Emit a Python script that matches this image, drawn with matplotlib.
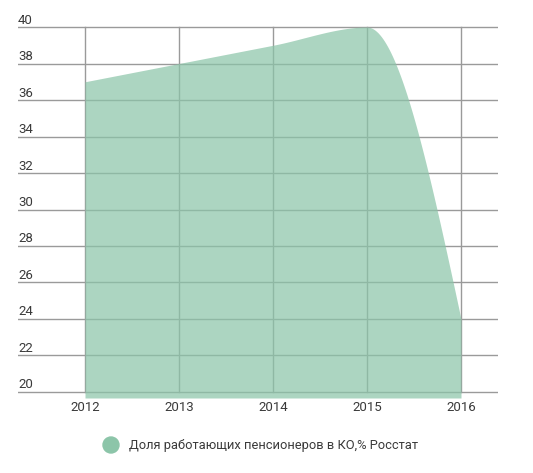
import numpy as np
import matplotlib
matplotlib.use("Agg")
import matplotlib.pyplot as plt
import matplotlib.transforms as mtransforms
from matplotlib.patches import Ellipse

years = [2012, 2013, 2014, 2015, 2016]
values = [37, 38, 39, 40, 24]
yticks = [20, 22, 24, 26, 28, 30, 32, 34, 36, 38, 40]
series_name = "Доля работающих пенсионеров в КО,% Росстат"

FILL = "#8cc5a9"
GRID = "#9a9a9a"
TXT = "#3a3a3a"
plt.rcParams['font.family'] = ['Roboto', 'DejaVu Sans']


def monotone_x(x, y, n=60):
    x = np.asarray(x, float); y = np.asarray(y, float)
    h = np.diff(x); s = np.diff(y) / h
    m = np.zeros_like(x)
    for i in range(1, len(x) - 1):
        p = (s[i-1] * h[i] + s[i] * h[i-1]) / (h[i-1] + h[i])
        m[i] = (np.sign(s[i-1]) + np.sign(s[i])) * min(abs(s[i-1]), abs(s[i]), 0.5 * abs(p))
    m[0] = (3 * s[0] - m[1]) / 2
    m[-1] = (3 * s[-1] - m[-2]) / 2
    xs, ys = [], []
    for i in range(len(x) - 1):
        t = np.linspace(0, 1, n)
        h00 = 2*t**3 - 3*t**2 + 1; h10 = t**3 - 2*t**2 + t
        h01 = -2*t**3 + 3*t**2; h11 = t**3 - t**2
        xs.append(x[i] + t * h[i])
        ys.append(h00*y[i] + h10*h[i]*m[i] + h01*y[i+1] + h11*h[i]*m[i+1])
    return np.concatenate(xs), np.concatenate(ys)


W, H = 533, 473
fig = plt.figure(figsize=(W/100, H/100), dpi=100)
left, right = 18, 498
top_px, bot_px = 25.2, 398
ax = fig.add_axes([left/W, (H-bot_px)/H, (right-left)/W, (bot_px-top_px)/H])
px_per_year = 94
x0 = 2012 - (85 - left) / px_per_year
x1 = 2016 + (right - 461) / px_per_year
ax.set_xlim(x0, x1)
ax.set_ylim(19.67, 40.1)
for s in ax.spines.values():
    s.set_visible(False)
ax.set_xticks([]); ax.set_yticks([])

for v in yticks:
    ax.axhline(v, color=GRID, lw=1, zorder=1)
for yr in years:
    ax.plot([yr, yr], [20, 40], color=GRID, lw=1, zorder=1)

xs, ys = monotone_x(years, values)
ax.fill_between(xs, 19.67, ys, color=FILL, alpha=0.72, lw=0, zorder=2)

tr = mtransforms.blended_transform_factory(ax.transAxes, ax.transData)
off = mtransforms.ScaledTranslation(0, 3.5/100, fig.dpi_scale_trans)
for v in yticks:
    ax.text(0, v, str(v), transform=tr + off, ha='left', va='baseline',
            fontsize=9.5, color=TXT)
trx = mtransforms.blended_transform_factory(ax.transData, ax.transAxes)
offx = mtransforms.ScaledTranslation(0, -3/100, fig.dpi_scale_trans)
for yr in years:
    ax.text(yr, 0, str(yr), transform=trx + offx, ha='center', va='top',
            fontsize=9.5, color=TXT)

# legend
fig.patches.append(Ellipse((111/W, (H-445)/H), width=16/W, height=16/H,
                           transform=fig.transFigure, color=FILL))
fig.text(129/W, (H-445)/H, series_name, ha='left', va='center',
         fontsize=9.3, color=TXT)

fig.savefig("out.png", dpi=100)
